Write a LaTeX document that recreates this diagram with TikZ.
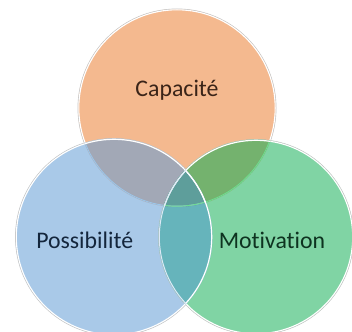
\documentclass[tikz,border=0pt]{standalone}
\usepackage{fontspec}
\setmainfont{Carlito}[Ligatures=NoCommon]
\definecolor{co}{HTML}{F4B98F}
\definecolor{cb}{HTML}{A9C9E8}
\definecolor{cg}{HTML}{80D4A4}
\definecolor{cob}{HTML}{A2A8B6}
\definecolor{cog}{HTML}{74B26E}
\definecolor{cbg}{HTML}{66B4BB}
\definecolor{cobg}{HTML}{5E9E9B}
\definecolor{rim}{HTML}{C4C4C4}
\definecolor{arcb}{HTML}{9CC6EA}
\definecolor{arcg}{HTML}{6EDC90}
\definecolor{tco}{HTML}{3A2418}
\definecolor{tcb}{HTML}{14263C}
\definecolor{tcg}{HTML}{0E3320}
\def\Oc{(177,108) circle[radius=99]}
\def\Bc{(114,237) circle[radius=98.5]}
\def\Gc{(256,237) circle[radius=97.5]}
\tikzset{x=1pt,y=-1pt,
  halo/.style={draw=rim,line width=0.8pt},
  edge/.style={draw=white,line width=1.1pt},
  lab/.style={font=\fontsize{23.8}{28}\selectfont,text=#1,inner sep=0pt,anchor=base}}
\begin{document}
\begin{tikzpicture}
\useasboundingbox (0,0) rectangle (352,331);
\clip (0,0) rectangle (352,331);
\fill[white] (0,0) rectangle (352,331);
% halos and discs
\fill[co,halo] \Oc;
\fill[cb,halo] \Bc;
\fill[cg,halo] \Gc;
\draw[edge] (177,108) circle[radius=98.2];
\draw[edge] (114,237) circle[radius=97.7];
\draw[edge] (256,237) circle[radius=96.7];
% pairwise overlaps
\begin{scope}\clip \Oc; \fill[cob] \Bc; \end{scope}
\begin{scope}\clip \Oc; \fill[cog] \Gc; \end{scope}
\begin{scope}\clip \Bc; \fill[cbg] \Gc; \end{scope}
\begin{scope}\clip \Oc; \clip \Bc; \fill[cobg] \Gc; \end{scope}
% edges inside overlaps
\begin{scope}\clip \Bc; \draw[draw=arcb,line width=.9pt] (177,108) circle[radius=98.2]; \end{scope}
\begin{scope}\clip \Gc; \draw[draw=arcg,line width=.9pt] (177,108) circle[radius=98.2]; \end{scope}
\begin{scope}\clip \Oc; \draw[draw=white,line width=1.2pt] (114,237) circle[radius=97.7]; \draw[draw=white,line width=1.2pt] (256,237) circle[radius=96.7]; \end{scope}
\begin{scope}\clip \Gc; \draw[draw=white,line width=1.2pt] (114,237) circle[radius=97.7]; \end{scope}
\begin{scope}\clip \Bc; \draw[draw=white!60!cb,line width=1pt] (256,237) circle[radius=96.7]; \end{scope}
% labels
\node[lab=tco] (cap) at (177,96.5) {Capacité};
\node[lab=tcb] (pos) at (84.7,248) {Possibilité};
\node[lab=tcg] (mot) at (272,248) {Motivation};
\end{tikzpicture}
\end{document}
